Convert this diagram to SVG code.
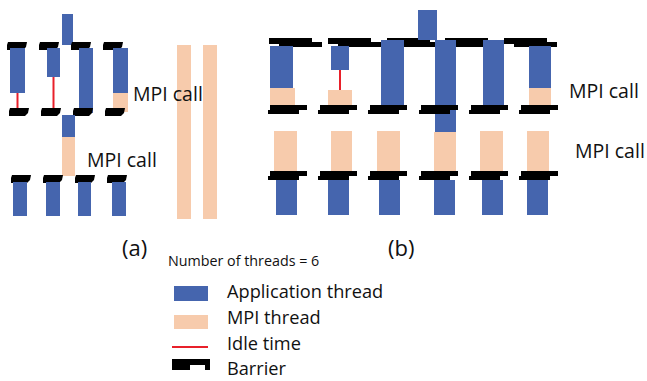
<svg xmlns="http://www.w3.org/2000/svg" width="647" height="381" viewBox="0 0 647 381">
<style>
.app{fill:#4565AE}
.mpi{fill:#F7CBAC}
.idle{stroke:#E8202A;stroke-width:2}
.bar{fill:#000}
text{font-family:"Open Sans","Liberation Sans",sans-serif;fill:#111}
.lbl{font-size:19.5px}
.leg{font-size:18.2px}
</style>
<defs>
<path id="ba" d="M1,0 H20 L19,5 L16,8 H0 L0,3 Z"/>
<path id="bt" d="M0,0 H43 V4 H53 V9 H10 V6 H0 Z"/>
<path id="bb" d="M2,0 H39 V5 H31 V9 H0 V5 H2 Z"/>
</defs>
<rect width="647" height="381" fill="#fff"/>

<g id="panel-a">
<g id="a-t1">
<use href="#ba" x="7" y="42" class="bar"/>
<rect class="app" x="10" y="48" width="15" height="45"/>
<line class="idle" x1="17.5" y1="93" x2="17.5" y2="110"/>
<use href="#ba" x="9" y="108" class="bar"/>
</g>
<g id="a-t2">
<use href="#ba" x="39" y="42" class="bar"/>
<rect class="app" x="47" y="48" width="13" height="29"/>
<line class="idle" x1="53.5" y1="77" x2="53.5" y2="110"/>
<use href="#ba" x="41" y="108" class="bar"/>
</g>
<g id="a-t3">
<rect class="app" x="62" y="14" width="11" height="31"/>
<use href="#ba" x="71" y="42" class="bar"/>
<rect class="app" x="79" y="48" width="14" height="65"/>
<use href="#ba" x="73" y="108" class="bar"/>
<rect class="app" x="62" y="115" width="13" height="22"/>
<rect class="mpi" x="62" y="137" width="13" height="39"/>
</g>
<g id="a-t4">
<use href="#ba" x="103" y="42" class="bar"/>
<rect class="app" x="113" y="48" width="15" height="45"/>
<rect class="mpi" x="113" y="93" width="15" height="19"/>
<use href="#ba" x="105" y="108" class="bar"/>
</g>
<g id="a-row3">
<use href="#ba" x="11" y="175" class="bar"/>
<use href="#ba" x="43" y="175" class="bar"/>
<use href="#ba" x="75" y="175" class="bar"/>
<use href="#ba" x="107" y="175" class="bar"/>
<rect class="app" x="13" y="182" width="14" height="34"/>
<rect class="app" x="46" y="182" width="14" height="34"/>
<rect class="app" x="78" y="182" width="13" height="34"/>
<rect class="app" x="112" y="182" width="14" height="34"/>
</g>
</g>

<g id="mpi-threads">
<rect class="mpi" x="177" y="45" width="14" height="174"/>
<rect class="mpi" x="203" y="45" width="14" height="174"/>
</g>
<text class="lbl" x="133" y="101">MPI call</text>
<text class="lbl" x="87" y="167">MPI call</text>

<g id="panel-b">
<g id="b-top-barriers">
<use href="#bt" x="269" y="38" class="bar"/>
<use href="#bt" x="328" y="38" class="bar"/>
<use href="#bt" x="387" y="38" class="bar"/>
<use href="#bt" x="445" y="38" class="bar"/>
<use href="#bt" x="504" y="38" class="bar"/>
</g>
<g id="b-t1">
<rect class="app" x="270" y="46" width="23" height="42"/>
<rect class="mpi" x="270" y="88" width="25" height="19"/>
<rect class="mpi" x="274" y="131" width="23" height="41"/>
<rect class="app" x="276" y="180" width="21" height="35"/>
</g>
<g id="b-t2">
<rect class="app" x="331" y="46" width="18" height="24"/>
<line class="idle" x1="340" y1="70" x2="340" y2="90"/>
<rect class="mpi" x="328" y="90" width="24" height="18"/>
<rect class="mpi" x="331" y="131" width="21" height="41"/>
<rect class="app" x="328" y="180" width="21" height="35"/>
</g>
<g id="b-t3">
<rect class="app" x="381" y="40" width="23" height="66"/>
<rect class="mpi" x="377" y="131" width="23" height="41"/>
<rect class="app" x="379" y="180" width="21" height="35"/>
</g>
<g id="b-t4">
<rect class="app" x="418" y="10" width="19" height="30"/>
<rect class="app" x="435" y="40" width="21" height="92"/>
<rect class="mpi" x="434" y="132" width="22" height="40"/>
<rect class="app" x="434" y="180" width="21" height="35"/>
</g>
<g id="b-t5">
<rect class="app" x="483" y="40" width="21" height="66"/>
<rect class="mpi" x="480" y="131" width="23" height="41"/>
<rect class="app" x="482" y="180" width="21" height="35"/>
</g>
<g id="b-t6">
<rect class="app" x="529" y="46" width="22" height="42"/>
<rect class="mpi" x="529" y="88" width="22" height="18"/>
<rect class="mpi" x="527" y="131" width="22" height="41"/>
<rect class="app" x="527" y="180" width="21" height="35"/>
</g>
<g id="b-mid-barriers">
<use href="#bb" x="268" y="105" class="bar"/>
<use href="#bb" x="318" y="105" class="bar"/>
<use href="#bb" x="368" y="105" class="bar"/>
<use href="#bb" x="419" y="105" class="bar"/>
<use href="#bb" x="469" y="105" class="bar"/>
<use href="#bb" x="519" y="105" class="bar"/>
</g>
<g id="b-low-barriers">
<use href="#bb" x="268" y="171" class="bar"/>
<use href="#bb" x="318" y="171" class="bar"/>
<use href="#bb" x="368" y="171" class="bar"/>
<use href="#bb" x="419" y="171" class="bar"/>
<use href="#bb" x="469" y="171" class="bar"/>
<use href="#bb" x="519" y="171" class="bar"/>
</g>
<text class="lbl" x="569" y="98">MPI call</text>
<text class="lbl" x="575" y="158">MPI call</text>
</g>

<g id="captions">
<text x="122" y="256" font-size="22">(a)</text>
<text x="388" y="256" font-size="22">(b)</text>
<text x="168" y="266" font-size="14.3">Number of threads = 6</text>
</g>

<g id="legend">
<rect class="app" x="174" y="286" width="34" height="15"/>
<text class="leg" x="227" y="298">Application thread</text>
<rect class="mpi" x="174" y="315" width="34" height="14"/>
<text class="leg" x="227" y="324">MPI thread</text>
<line class="idle" x1="172" y1="347" x2="208" y2="347"/>
<text class="leg" x="227" y="350">Idle time</text>
<path class="bar" d="M172,359 H210 V370 H205 V365 H190 V370 H172 Z"/>
<text class="leg" x="227" y="375">Barrier</text>
</g>
</svg>
